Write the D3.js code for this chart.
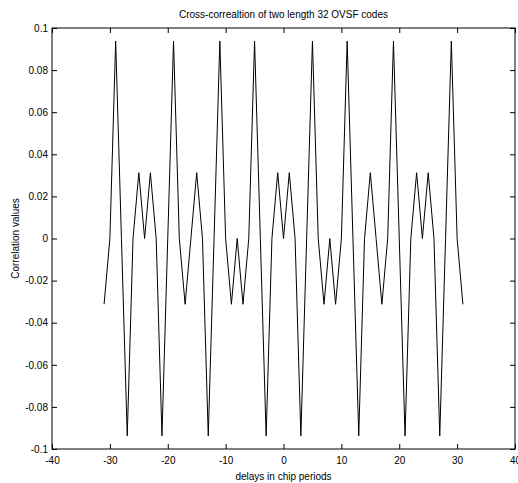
<!DOCTYPE html>
<html><head><meta charset="utf-8">
<script src="https://d3js.org/d3.v7.min.js"></script>
<style>body{margin:0;background:#fff}svg{display:block}text{font-family:"Liberation Sans",Arial,sans-serif}</style>
</head><body><svg id="c" width="518" height="483"></svg>
<script>
const delays = d3.range(-31, 32);
const corrValues = [
 -0.03125, 0, 0.09375, 0, -0.09375, 0, 0.03125, 0, 0.03125, 0,
 -0.09375, 0, 0.09375, 0, -0.03125, 0, 0.03125, 0, -0.09375, 0,
 0.09375, 0, -0.03125, 0, -0.03125, 0, 0.09375, 0, -0.09375, 0,
 0.03125, 0, 0.03125, 0, -0.09375, 0, 0.09375, 0, -0.03125, 0,
 -0.03125, 0, 0.09375, 0, -0.09375, 0, 0.03125, 0, -0.03125, 0,
 0.09375, 0, -0.09375, 0, 0.03125, 0, 0.03125, 0, -0.09375, 0,
 0.09375, 0, -0.03125
];
const xTicks = [-40,-30,-20,-10,0,10,20,30,40];
const yTicks = [-0.1,-0.08,-0.06,-0.04,-0.02,0,0.02,0.04,0.06,0.08,0.1];
const title = "Cross-correaltion of two length 32 OVSF codes";
const xLabel = "delays in chip periods";
const yLabel = "Correlation values";

const L=52, R=515, T=28, B=449;
const svg = d3.select("#c");
const x = d3.scaleLinear().domain([-40,40]).range([L,R]);
const y = d3.scaleLinear().domain([-0.1,0.1]).range([B,T]);
const fmt = d => d===0 ? "0" : String(+d.toFixed(2));
const fs = "10px";

function styleAxis(g){
  g.selectAll(".domain").remove();
  g.selectAll("line").attr("stroke","#000");
  g.selectAll("text").attr("font-size",fs).attr("fill","#000");
}
svg.append("g").attr("transform",`translate(0,${B})`)
  .call(d3.axisBottom(x).tickValues(xTicks).tickFormat(fmt).tickSizeInner(-5).tickPadding(8))
  .call(styleAxis);
svg.append("g").attr("transform",`translate(0,${T})`)
  .call(d3.axisTop(x).tickValues(xTicks).tickFormat("").tickSizeInner(-5))
  .call(styleAxis);
svg.append("g").attr("transform",`translate(${L},0)`)
  .call(d3.axisLeft(y).tickValues(yTicks).tickFormat(fmt).tickSizeInner(-5).tickPadding(4))
  .call(styleAxis);
svg.append("g").attr("transform",`translate(${R},0)`)
  .call(d3.axisRight(y).tickValues(yTicks).tickFormat("").tickSizeInner(-5))
  .call(styleAxis);

svg.append("rect").attr("x",L).attr("y",T).attr("width",R-L).attr("height",B-T)
  .attr("fill","none").attr("stroke","#000").attr("stroke-width",1);

const line = d3.line().x((d,i)=>x(delays[i])).y(d=>y(d));
svg.append("path").datum(corrValues).attr("d",line)
  .attr("fill","none").attr("stroke","#000").attr("stroke-width",1);

svg.append("text").attr("x",(L+R)/2).attr("y",18).attr("text-anchor","middle")
  .attr("font-size",fs).text(title);
svg.append("text").attr("x",(L+R)/2).attr("y",480).attr("text-anchor","middle")
  .attr("font-size",fs).text(xLabel);
svg.append("text").attr("transform",`translate(19,${(T+B)/2}) rotate(-90)`).attr("text-anchor","middle")
  .attr("font-size",fs).text(yLabel);
</script></body></html>
